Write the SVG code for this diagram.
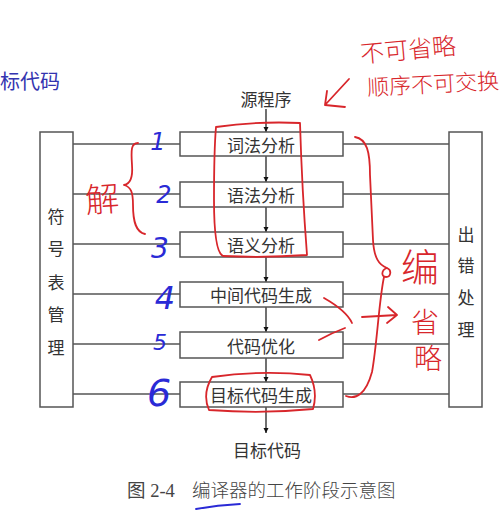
<svg xmlns="http://www.w3.org/2000/svg" width="501" height="519" viewBox="0 0 501 519">
<defs>
<style>
.box{fill:#fff;stroke:#555;stroke-width:1.5}
.ln{stroke:#555;stroke-width:1.4;fill:none}
.t{font-family:"Noto Sans CJK SC","Noto Sans",sans-serif;font-size:17px;fill:#333;text-anchor:middle;dominant-baseline:central}
.cap{font-family:"Liberation Serif","Noto Sans CJK SC",serif;font-size:18.5px;fill:#444;dominant-baseline:central}
.red{stroke:#d8262b;stroke-width:1.8;fill:none;stroke-linecap:round;stroke-linejoin:round}
.rt{font-family:"Noto Sans CJK SC",sans-serif;fill:#d8262b;text-anchor:middle;dominant-baseline:central;font-weight:300}
.bt{font-family:"DejaVu Sans",sans-serif;font-style:italic;fill:#2a2ad6;text-anchor:middle;dominant-baseline:central;font-weight:200}
</style>
<marker id="ah" viewBox="0 0 10 10" refX="10" refY="5" markerWidth="5" markerHeight="8" orient="auto" markerUnits="userSpaceOnUse">
<path d="M0,0 L10,5 L0,10 Z" fill="#111"/>
</marker>
</defs>
<rect width="501" height="519" fill="#fff"/>
<text x="0" y="80" font-family="Noto Sans CJK SC,sans-serif" font-size="20" fill="#3434b0" dominant-baseline="central">标代码</text>

<g id="connectors">
<line class="ln" x1="73" y1="144" x2="180" y2="144"/>
<line class="ln" x1="73" y1="194" x2="180" y2="194" stroke="#222"/>
<line class="ln" x1="73" y1="244" x2="180" y2="244"/>
<line class="ln" x1="73" y1="294" x2="180" y2="294"/>
<line class="ln" x1="73" y1="344" x2="180" y2="344"/>
<line class="ln" x1="73" y1="394" x2="180" y2="394"/>
<line class="ln" x1="343" y1="144" x2="449" y2="144"/>
<line class="ln" x1="343" y1="194" x2="449" y2="194"/>
<line class="ln" x1="343" y1="244" x2="449" y2="244"/>
<line class="ln" x1="343" y1="294" x2="449" y2="294"/>
<line class="ln" x1="343" y1="344" x2="449" y2="344"/>
<line class="ln" x1="343" y1="394" x2="449" y2="394"/>
<g stroke="#111" stroke-width="1.2" marker-end="url(#ah)">
<line x1="266" y1="109" x2="266" y2="132"/>
<line x1="266" y1="156" x2="266" y2="182"/>
<line x1="266" y1="207" x2="266" y2="232"/>
<line x1="266" y1="257" x2="266" y2="282"/>
<line x1="266" y1="307" x2="266" y2="332"/>
<line x1="266" y1="358" x2="266" y2="382"/>
<line x1="266" y1="407" x2="266" y2="433"/>
</g>
</g>

<g id="symtab">
<rect class="box" x="40" y="132" width="33" height="275"/>
<text class="t" x="56" y="215">符</text>
<text class="t" x="56" y="247">号</text>
<text class="t" x="56" y="281">表</text>
<text class="t" x="56" y="313">管</text>
<text class="t" x="56" y="346">理</text>
</g>
<g id="errors">
<rect class="box" x="449" y="132" width="33" height="275"/>
<text class="t" x="466" y="233">出</text>
<text class="t" x="466" y="264">错</text>
<text class="t" x="466" y="296">处</text>
<text class="t" x="466" y="328">理</text>
</g>
<g id="source"><text class="t" x="266" y="98" font-size="18">源程序</text></g>
<g id="s1"><rect class="box" x="180" y="132" width="163" height="24"/><text class="t" x="261" y="144">词法分析</text></g>
<g id="s2"><rect class="box" x="180" y="182" width="163" height="25"/><text class="t" x="261" y="194">语法分析</text></g>
<g id="s3"><rect class="box" x="180" y="232" width="163" height="25"/><text class="t" x="261" y="244">语义分析</text></g>
<g id="s4"><rect class="box" x="180" y="282" width="163" height="25"/><text class="t" x="261" y="294">中间代码生成</text></g>
<g id="s5"><rect class="box" x="180" y="332" width="163" height="26"/><text class="t" x="261" y="345">代码优化</text></g>
<g id="s6"><rect class="box" x="180" y="382" width="163" height="25"/><text class="t" x="261" y="394">目标代码生成</text></g>
<g id="target"><text class="t" x="267" y="449">目标代码</text></g>

<g id="caption">
<text class="cap" x="127" y="491">图 2-4</text>
<text class="cap" x="192" y="491" font-family="Noto Sans CJK SC,sans-serif" font-size="18.5" font-weight="300">编译器的工作阶段示意图</text>
</g>

<g id="annotations">
<path class="red" d="M216,127 Q258,121 300,123 Q302,190 307,255 Q265,258 223,256 Q214,252 214,200 Q214,150 216,127"/>
<path class="red" d="M212,377 Q262,370 310,375 Q318,392 313,409 Q262,414 209,410 Q202,394 212,377 Z"/>
<path class="red" d="M355,137 C367,139 370,152 370,175 L373,240 C374,258 379,265 387,268 C392,270 391,277 386,277 C381,277 381,270 387,268 M384,277 C379,300 377,345 372,372 C366,394 356,400 346,396"/>
<path class="red" d="M324,298 C338,306 348,314 352,323 M319,340 C328,335 337,331 345,328"/>
<path class="red" d="M362,317 L397,315 M388,307 L397,315 L387,323"/>
<path class="red" d="M138,143 C131,143 131,150 132,165 C133,178 130,184 124,185 C131,187 133,192 133,205 C133,222 136,232 145,234"/>
<path class="red" d="M349,79 L325,105 M327,91 L325,105 L345,107"/>
<text class="rt" x="102" y="197" font-size="34" transform="rotate(-4 102 197)">解</text>
<text class="rt" x="420" y="264" font-size="38">编</text>
<text class="rt" x="425" y="321" font-size="28">省</text>
<text class="rt" x="428" y="357" font-size="28">略</text>
<text class="rt" x="408" y="48" font-size="24" transform="rotate(-5 408 48)">不可省略</text>
<text class="rt" x="433" y="82" font-size="22" transform="rotate(-3 433 82)">顺序不可交换</text>
<text class="bt" x="158" y="142" font-size="24">1</text>
<text class="bt" x="164" y="195" font-size="24">2</text>
<text class="bt" x="160" y="248" font-size="28">3</text>
<text class="bt" x="165" y="298" font-size="32">4</text>
<text class="bt" x="160" y="342" font-size="22">5</text>
<text class="bt" x="159" y="393" font-size="38">6</text>
<path d="M196,509 Q218,505 240,504" stroke="#2a2ad6" stroke-width="1.8" fill="none" stroke-linecap="round"/>
</g>
</svg>
